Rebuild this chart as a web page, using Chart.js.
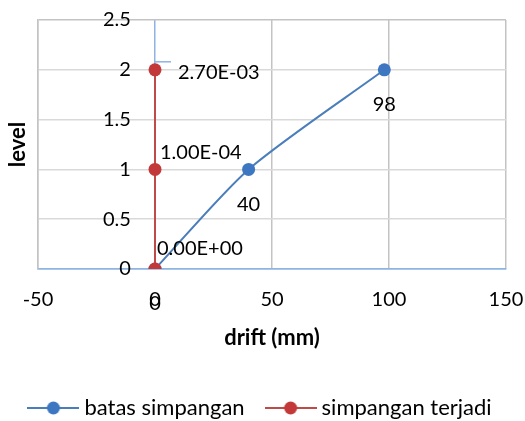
<!DOCTYPE html>
<html>
<head>
<meta charset="utf-8">
<script src="https://cdn.jsdelivr.net/npm/chart.js@4.4.1/dist/chart.umd.min.js"></script>
<style>
  html, body { margin: 0; padding: 0; background: #ffffff; }
  #c { display: block; }
</style>
</head>
<body>
<canvas id="c" width="525" height="421"></canvas>
<script>
// Story levels and drift values (mm)
const levels = [0, 1, 2];
const driftLimit = [0, 40, 98];          // batas simpangan
const driftActual = [0, 0.0001, 0.0027]; // simpangan terjadi
const xTicks = [-50, 0, 50, 100, 150];
const yTicks = [0, 0.5, 1, 1.5, 2, 2.5];
const seriesNames = ['batas simpangan', 'simpangan terjadi'];

const FONT = 'Lato';
const axisBlue = '#8DB4E2';
const gridGray = '#C3C3C3';
const gridLight = '#D9D9D9';
const blueLine = '#4A7EBB', blueMark = '#3D77C1';
const redLine = '#BE4B48', redMark = '#C3393A';

// Excel-style scientific notation, e.g. 2.70E-03
function sci(v) {
  const parts = v.toExponential(2).split('e');
  const n = parseInt(parts[1], 10);
  return parts[0] + 'E' + (n < 0 ? '-' : '+') + String(Math.abs(n)).padStart(2, '0');
}

// Legend swatch: line with a round marker
function legendMarker(lineColor, fill) {
  const c = document.createElement('canvas');
  c.width = 52; c.height = 16;
  const g = c.getContext('2d');
  g.strokeStyle = lineColor; g.lineWidth = 2;
  g.beginPath(); g.moveTo(0, 8); g.lineTo(52, 8); g.stroke();
  g.fillStyle = fill;
  g.beginPath(); g.arc(26, 8, 6.5, 0, Math.PI * 2); g.fill();
  return c;
}
const markers = [legendMarker(blueLine, blueMark), legendMarker(redLine, redMark)];

// Value labels next to each point
const pointLabels = {
  id: 'pointLabels',
  afterDatasetsDraw(chart) {
    const ctx = chart.ctx;
    ctx.save();
    ctx.font = '20px ' + FONT;
    ctx.fillStyle = '#000';
    ctx.textBaseline = 'middle';

    const m0 = chart.getDatasetMeta(0);
    ctx.textAlign = 'center';
    m0.data.forEach((p, i) => {
      ctx.fillText(String(driftLimit[i]), p.x, p.y + 35);
    });

    const m1 = chart.getDatasetMeta(1);
    const offs = [[2, -20], [5, -17], [23, 3]];
    ctx.textAlign = 'left';
    m1.data.forEach((p, i) => {
      ctx.fillText(sci(driftActual[i]), p.x + offs[i][0], p.y + offs[i][1]);
    });
    // leader for the top label
    const top = m1.data[m1.data.length - 1];
    ctx.strokeStyle = axisBlue;
    ctx.lineWidth = 1.5;
    ctx.beginPath();
    ctx.moveTo(top.x, top.y - 8);
    ctx.lineTo(top.x + 16, top.y - 8);
    ctx.stroke();
    ctx.restore();
  }
};

new Chart(document.getElementById('c'), {
  type: 'scatter',
  data: {
    datasets: [
      {
        label: seriesNames[0],
        data: driftLimit.map((x, i) => ({ x: x, y: levels[i] })),
        showLine: true,
        tension: 0.25,
        borderColor: blueLine,
        borderWidth: 2,
        pointRadius: 6.5,
        pointBackgroundColor: blueMark,
        pointBorderColor: blueMark,
        pointBorderWidth: 0,
        order: 1
      },
      {
        label: seriesNames[1],
        data: driftActual.map((x, i) => ({ x: x, y: levels[i] })),
        showLine: true,
        borderColor: redLine,
        borderWidth: 2,
        pointRadius: 6.5,
        pointBackgroundColor: redMark,
        pointBorderColor: redMark,
        pointBorderWidth: 0,
        order: 0
      }
    ]
  },
  options: {
    responsive: false,
    animation: false,
    events: [],
    layout: { padding: { left: 0, top: 20, right: 0, bottom: -8 } },
    scales: {
      x: {
        type: 'linear',
        position: 'bottom',
        min: -50, max: 150,
        afterBuildTicks: s => { s.ticks = xTicks.map(v => ({ value: v })); },
        afterFit: s => { s.height = 102; s.paddingLeft = 0; s.paddingRight = 19; },
        ticks: {
          padding: 19, color: '#000', font: { family: FONT, size: 20 },
          callback: v => String(v)
        },
        grid: {
          drawTicks: false,
          lineWidth: 1.5,
          color: c => (c.tick && c.tick.value === 0) ? axisBlue : gridGray
        },
        border: { display: true, color: axisBlue, width: 1.5 },
        title: {
          display: true, text: 'drift (mm)', color: '#000',
          font: { family: FONT, size: 22, weight: 'bold' },
          padding: { top: 0, bottom: 20 }
        }
      },
      y: {
        type: 'linear',
        position: 'left',
        min: 0, max: 2.5,
        afterBuildTicks: s => { s.ticks = yTicks.map(v => ({ value: v })); },
        afterFit: s => { s.width = 38; s.paddingTop = 0; s.paddingBottom = 0; },
        ticks: {
          mirror: true, crossAlign: 'far', padding: 65,
          color: '#000', font: { family: FONT, size: 20 },
          callback: v => String(v)
        },
        grid: {
          drawTicks: false,
          lineWidth: 1.5,
          color: c => {
            if (!c.tick) return gridLight;
            if (c.tick.value === 0) return axisBlue;
            if (c.tick.value === 2.5) return gridGray;
            return gridLight;
          }
        },
        border: { display: true, color: gridGray, width: 1.5 },
        title: {
          display: true, text: 'level', color: '#000',
          font: { family: FONT, size: 22, weight: 'bold' },
          padding: { top: 5, bottom: 0 }
        }
      }
    },
    plugins: {
      tooltip: { enabled: false },
      legend: {
        position: 'bottom',
        labels: {
          usePointStyle: true,
          pointStyleWidth: 40,
          padding: 26,
          color: '#000',
          font: { family: FONT, size: 22 },
          sort: (a, b) => a.datasetIndex - b.datasetIndex,
          generateLabels(chart) {
            const items = Chart.defaults.plugins.legend.labels.generateLabels(chart);
            items.forEach(it => { it.pointStyle = markers[it.datasetIndex]; });
            return items;
          }
        }
      }
    }
  },
  plugins: [pointLabels]
});
</script>
</body>
</html>
